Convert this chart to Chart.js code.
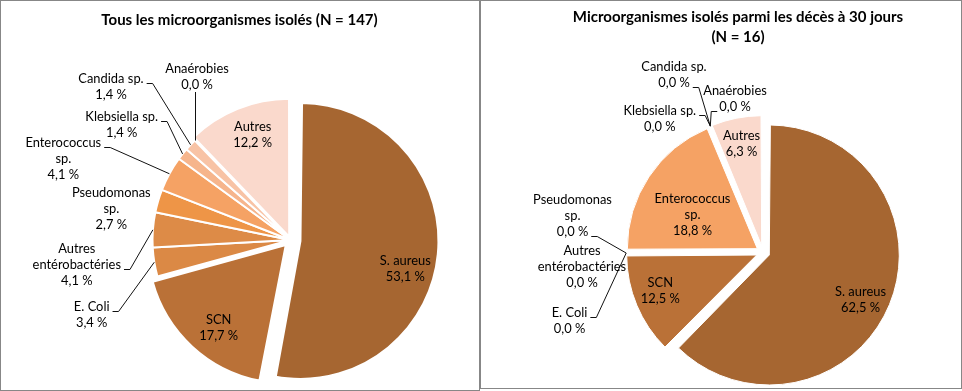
<!DOCTYPE html>
<html><head><meta charset="utf-8">
<script src="https://cdn.jsdelivr.net/npm/chart.js@4.4.1/dist/chart.umd.min.js"></script>
<style>
html,body{margin:0;padding:0;background:#fff;}
body{width:962px;height:391px;position:relative;overflow:hidden;}
.box{position:absolute;border:1px solid #878787;box-sizing:border-box;background:#fff;}
#b1{left:0;top:0;width:480px;height:391px;}
#b2{left:480px;top:0;width:482px;height:389px;}
.box canvas{position:absolute;left:0;top:0;}
</style></head><body>
<div class="box" id="b1"><canvas id="c1" width="478" height="389"></canvas></div>
<div class="box" id="b2"><canvas id="c2" width="480" height="387"></canvas></div>
<script>
// ---- data ----
const categories = ['S. aureus', 'SCN', 'E. Coli', 'Autres\nentérobactéries', 'Pseudomonas\nsp.',
  'Enterococcus\nsp.', 'Klebsiella sp.', 'Candida sp.', 'Anaérobies', 'Autres'];
const valuesAll = [53.1, 17.7, 3.4, 4.1, 2.7, 4.1, 1.4, 1.4, 0.0, 12.2];
const valuesDeaths = [62.5, 12.5, 0.0, 0.0, 0.0, 18.8, 0.0, 0.0, 0.0, 6.3];
const titleAll = ['Tous les microorganismes isolés (N = 147)'];
const titleDeaths = ['Microorganismes isolés parmi les décès à 30 jours', '(N = 16)'];

// ---- styles ----
const sliceColors = ['#A66631', '#BA7137', '#DB8945', '#DD8B47', '#EE9547', '#F5A264', '#F6B58C', '#F8C3A5', '#F9CDB6', '#FAD9CC'];
const LABEL_FONT = '12.9px Lato';
const TITLE_FONT = 'bold 15px Lato';
const LINE_H = 16;

// explosion (pixels of translation) per slice
const explodeAll = [10, 7, 0, 0, 0, 0, 0, 0, 0, 3.5];
const explodeDeaths = [6.8, 6.8, 6.8, 6.8, 6.8, 6.8, 6.8, 6.8, 6.8, 6.8];

// label placement relative to pie centre (first line centre)
const layoutAll = [
  {dx: 114.8, dy: 21},
  {dx: -71.8, dy: 80},
  {dx: -198.8, dy: 66.7, leader: {line: 0, side: 'right'}},
  {dx: -213.7, dy: 9, leader: {line: 1, side: 'right'}},
  {dx: -179.2, dy: -47.3},
  {dx: -227.2, dy: -96.7, leader: {line: 0, side: 'right'}},
  {dx: -168.8, dy: -123, leader: {line: 0, side: 'right'}},
  {dx: -179.5, dy: -161, leader: {line: 0, side: 'right'}},
  {dx: -93.5, dy: -171, leader: {side: 'bottom'}},
  {dx: -37.8, dy: -113}
];
const layoutDeaths = [
  {dx: 97.5, dy: 39.6},
  {dx: -102.7, dy: 30.3},
  {dx: -193.5, dy: 60.3, leader: {line: 0, side: 'right'}},
  {dx: -181, dy: -1.7},
  {dx: -190.5, dy: -52.4, leader: {line: 2, side: 'right'}},
  {dx: -70.5, dy: -53.4},
  {dx: -103.2, dy: -141.4, leader: {line: 0, side: 'right'}},
  {dx: -89, dy: -185.4, leader: {line: 1, side: 'right'}},
  {dx: -28, dy: -161.7, leader: {line: 1, side: 'left'}},
  {dx: -21.5, dy: -116.7}
];

function pct(v) { return v.toFixed(1).replace('.', ',') + ' %'; }

function makeLabelPlugin(layout, titleLines, titleX, titleY, titleLH) {
  return {
    id: 'pieLabels',
    beforeDatasetsDraw(chart) {
      // keep every exploded slice at the common radius
      const meta = chart.getDatasetMeta(0);
      const R = meta.controller.outerRadius;
      meta.data.forEach(el => {
        const off = (el.options.offset || 0) / 4;
        const fix = 1 - Math.sin(Math.min(Math.PI, el.circumference || 0));
        el.outerRadius = R - off * fix;
      });
    },
    afterDatasetsDraw(chart) {
      const ctx = chart.ctx;
      const meta = chart.getDatasetMeta(0);
      const R = meta.controller.outerRadius;
      const data = chart.data.datasets[0].data;
      const labels = chart.data.labels;
      ctx.save();
      ctx.font = LABEL_FONT;
      ctx.fillStyle = '#000';
      ctx.strokeStyle = '#111';
      ctx.lineWidth = 1;
      ctx.textAlign = 'center';
      ctx.textBaseline = 'middle';
      meta.data.forEach((el, i) => {
        const L = layout[i];
        const lines = labels[i].split('\n').concat([pct(data[i])]);
        const cx = el.x + L.dx, cy = el.y + L.dy;
        lines.forEach((t, k) => ctx.fillText(t, cx, cy + k * LINE_H));
        if (L.leader) {
          const a = (el.startAngle + el.endAngle) / 2;
          const off = (el.options.offset || 0) / 4;
          const ex = el.x + Math.cos(a) * (R + off), ey = el.y + Math.sin(a) * (R + off);
          ctx.beginPath();
          if (L.leader.side === 'bottom') {
            const x = Math.round(ex) + 0.5;
            ctx.moveTo(x, cy + (lines.length - 1) * LINE_H + 7);
            ctx.lineTo(x, ey);
          } else {
            const k = L.leader.line;
            const w = ctx.measureText(lines[k]).width;
            const y = Math.round(cy + k * LINE_H + 4) + 0.5;
            const right = L.leader.side === 'right';
            const x0 = right ? cx + w / 2 + 3 : cx - w / 2 - 2;
            const x1 = right ? x0 + 6 : x0 - 6;
            ctx.moveTo(x0, y);
            ctx.lineTo(x1, y);
            ctx.lineTo(ex, ey);
          }
          ctx.stroke();
        }
      });
      ctx.font = TITLE_FONT;
      titleLines.forEach((t, k) => ctx.fillText(t, titleX, titleY + k * titleLH));
      ctx.restore();
    }
  };
}

function makePie(canvasId, values, explode, layout, titleLines, padding, radius, border, titlePos) {
  return new Chart(document.getElementById(canvasId), {
    type: 'pie',
    data: {
      labels: categories,
      datasets: [{
        data: values,
        backgroundColor: sliceColors,
        borderColor: '#ffffff',
        borderWidth: border,
        offset: explode.map(p => p * 4),
        hoverOffset: 0
      }]
    },
    options: {
      responsive: false,
      devicePixelRatio: 1,
      animation: false,
      events: [],
      radius: radius,
      layout: {padding: padding},
      plugins: {legend: {display: false}, title: {display: false}, tooltip: {enabled: false}}
    },
    plugins: [makeLabelPlugin(layout, titleLines, titlePos[0], titlePos[1], 20)]
  });
}

makePie('c1', valuesAll, explodeAll, layoutAll, titleAll,
  {left: 101, top: 89, right: 0, bottom: 0}, 138, 2, [238.5, 19.5]);
makePie('c2', valuesDeaths, explodeDeaths, layoutDeaths, titleDeaths,
  {left: 84, top: 115.8, right: 0, bottom: 0}, 130, 1, [257, 16.5]);
</script>
</body></html>
